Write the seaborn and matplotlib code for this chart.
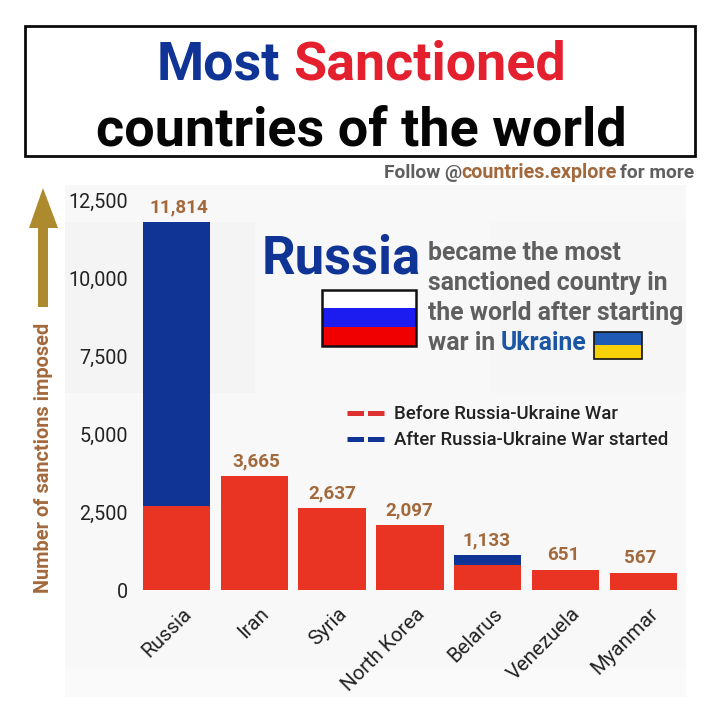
import matplotlib
matplotlib.use("Agg")
import matplotlib.pyplot as plt
from matplotlib.patches import Rectangle, Polygon
from matplotlib.lines import Line2D
from matplotlib.transforms import ScaledTranslation
import seaborn as sns
import pandas as pd

countries = ["Russia", "Iran", "Syria", "North Korea", "Belarus", "Venezuela", "Myanmar"]
before_war = [2700, 3665, 2637, 2097, 800, 651, 567]
total = [11814, 3665, 2637, 2097, 1133, 651, 567]
y_ticks = [0, 2500, 5000, 7500, 10000, 12500]

RED = "#E93323"
BLUE = "#0F3496"
BROWN = "#A2693C"
GREY = "#5F5F5F"
GOLD = "#AE8A2F"

sns.set_theme(style="white")
plt.rcParams["font.family"] = ["Roboto", "DejaVu Sans"]

W, H = 720, 719
fig = plt.figure(figsize=(W / 100, H / 100), dpi=100, facecolor="white")

# Backdrop in pixel coordinates
bg = fig.add_axes([0, 0, 1, 1], zorder=0)
bg.set_xlim(0, W); bg.set_ylim(H, 0); bg.axis("off")
bg.add_patch(Rectangle((65, 185), 621, 512, fc="#F8F8F8", ec="none"))
bg.add_patch(Rectangle((65, 222), 190, 171, fc="#F4F4F4", ec="none"))
bg.add_patch(Rectangle((490, 222), 196, 171, fc="#F6F6F6", ec="none"))
bg.add_patch(Rectangle((65, 668), 621, 29, fc="#FAFAFA", ec="none"))

ax_left, ax_right, ax_top, ax_bottom = 132, 686, 185, 590.3
ax = fig.add_axes([ax_left / W, 1 - ax_bottom / H, (ax_right - ax_left) / W, (ax_bottom - ax_top) / H], zorder=1)
ax.patch.set_alpha(0)

df = pd.DataFrame({"country": countries, "before": before_war, "total": total})
sns.barplot(data=df, x="country", y="total", color=BLUE, saturation=1, width=0.865, ax=ax, order=countries, linewidth=0)
sns.barplot(data=df, x="country", y="before", color=RED, saturation=1, width=0.865, ax=ax, order=countries, linewidth=0)

ax.set_xlim(-0.572, 6.549)
ax.set_ylim(0, 13000)
ax.set_xlabel(""); ax.set_ylabel("")
ax.set_yticks(y_ticks)
ax.set_yticklabels([f"{v:,}" for v in y_ticks], fontsize=14.2, color="#222222")
ax.tick_params(axis="y", length=0, pad=3)
ax.tick_params(axis="x", length=0, pad=10)
ax.set_xticks(range(len(countries)))
ax.set_xticklabels(countries, rotation=45, ha="right", rotation_mode="anchor", fontsize=14.7, color="#222222")
shift = ScaledTranslation(5 / 100, 0, fig.dpi_scale_trans)
for lab in ax.get_xticklabels():
    lab.set_transform(lab.get_transform() + shift)
sns.despine(ax=ax, left=True, bottom=True, top=True, right=True)

for i, v in enumerate(total):
    ax.annotate(f"{v:,}", (i, v), xytext=(2 - 0.75 * i, 4), textcoords="offset points", ha="center", va="bottom",
                fontsize=13.6, fontweight="bold", color=BROWN)

ax.legend(handles=[Line2D([], [], color="#DD3030", lw=3.6, ls=(0, (3.3, 0.8))),
                   Line2D([], [], color=BLUE, lw=3.6, ls=(0, (3.3, 0.8)))],
          labels=["Before Russia-Ukraine War", "After Russia-Ukraine War started"],
          loc="upper left", bbox_to_anchor=(334 / W, 1 - 392 / H), bbox_transform=fig.transFigure,
          frameon=False, handlelength=2.0, handletextpad=0.5, labelspacing=0.45,
          borderpad=0.2, labelcolor="#222222", prop={"family": "Roboto", "weight": "medium", "size": 13.4})

# Foreground annotations in pixel coordinates
fg = fig.add_axes([0, 0, 1, 1], zorder=2)
fg.set_xlim(0, W); fg.set_ylim(H, 0); fg.axis("off"); fg.patch.set_alpha(0)

fg.add_patch(Rectangle((24.5, 26), 670, 130, fc="white", ec="#0A0A0A", lw=2))
tk = dict(fontweight="bold", va="baseline", ha="left")
fg.text(157, 80, "Most", color="#0F3496", fontsize=38.8, **tk)
fg.text(293, 80, "Sanctioned", color="#E4202E", fontsize=38.8, **tk)
fg.text(96, 146, "countries of the world", color="#050505", fontsize=38.9, **tk)

tf = dict(fontweight="bold", va="baseline", ha="left")
fg.text(384, 178, "Follow @", color=GREY, fontsize=13.8, **tf)
fg.text(461, 178, "countries.explore", color=BROWN, fontsize=14.2, **tf)
fg.text(620, 178, "for more", color=GREY, fontsize=13.8, **tf)

# Y-axis arrow and title
fg.add_patch(Polygon([(38, 307), (38, 228), (29, 228), (43, 188), (58, 228), (48, 228), (48, 307)], fc=GOLD, ec="none"))
fg.text(44, 458, "Number of sanctions imposed", rotation=90, ha="center", va="center",
        color=BROWN, fontsize=14.4, fontweight="bold")

# Callout
fg.text(262, 273, "Russia", color=BLUE, fontsize=37.8, fontweight="bold", va="baseline", ha="left")
tc = dict(fontsize=17.8, fontweight="bold", va="baseline", ha="left", color=GREY)
fg.text(428, 260, "became the most", **tc)
fg.text(428, 290, "sanctioned country in", **tc)
fg.text(428, 320, "the world after starting", **tc)
fg.text(428, 350, "war in", **tc)
fg.text(501, 350, "Ukraine", fontsize=17.8, fontweight="bold", va="baseline", ha="left", color="#1B56A5")

# Flags
fg.add_patch(Rectangle((322, 290), 94, 19, fc="white", ec="none"))
fg.add_patch(Rectangle((322, 308), 94, 19, fc="#1C1CF0", ec="none"))
fg.add_patch(Rectangle((322, 327), 94, 19, fc="#F00000", ec="none"))
fg.add_patch(Rectangle((322, 290), 94, 56, fc="none", ec="#111111", lw=1.8))
fg.add_patch(Rectangle((594, 332), 48, 14, fc="#1F5BB5", ec="none"))
fg.add_patch(Rectangle((594, 345), 48, 14, fc="#F7D008", ec="none"))
fg.add_patch(Rectangle((594, 332), 48, 27, fc="none", ec="#111111", lw=1.2))

fig.savefig("out.png", dpi=100, facecolor="white")
